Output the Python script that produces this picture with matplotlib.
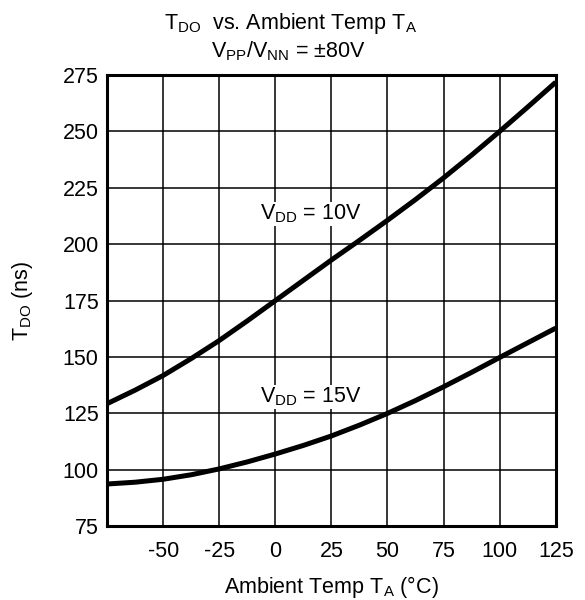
import matplotlib
matplotlib.use("Agg")
import matplotlib.pyplot as plt

plt.rcParams['font.family'] = ['Liberation Sans', 'DejaVu Sans']
plt.rcParams['mathtext.fontset'] = 'custom'
plt.rcParams['mathtext.rm'] = 'Liberation Sans'
plt.rcParams['mathtext.it'] = 'Liberation Sans:italic'
plt.rcParams['mathtext.bf'] = 'Liberation Sans:bold'

temp = [-75, -62.5, -50, -37.5, -25, -12.5, 0, 12.5, 25, 37.5, 50, 62.5, 75, 87.5, 100, 112.5, 125]
tdo_10v = [129.3, 135.3, 141.8, 149.3, 157.3, 166, 175, 184, 193, 201.7, 210.6, 219.8, 229.4, 239.5, 250, 260.8, 271.8]
tdo_15v = [93.7, 94.5, 95.8, 97.8, 100.4, 103.5, 107, 110.8, 115, 119.8, 125, 130.7, 136.8, 143.2, 149.8, 156.3, 162.8]

xticks = [-75, -50, -25, 0, 25, 50, 75, 100, 125]
xticklabels = ['', '-50', '-25', '0', '25', '50', '75', '100', '125']
yticks = [75, 100, 125, 150, 175, 200, 225, 250, 275]

fig = plt.figure(figsize=(5.85, 6.0), dpi=100)
ax = fig.add_axes([0.183, 0.123, 0.767, 0.752])

ax.plot(temp, tdo_10v, color='black', lw=3.6, solid_capstyle='butt', zorder=3)
ax.plot(temp, tdo_15v, color='black', lw=3.6, solid_capstyle='butt', zorder=3)

ax.set_xlim(-75, 125)
ax.set_ylim(75, 275)
ax.set_xticks(xticks)
ax.set_xticklabels(xticklabels)
ax.set_yticks(yticks)
ax.grid(True, color='black', lw=1.1)
ax.set_axisbelow(True)
for s in ax.spines.values():
    s.set_linewidth(2.2)
ax.tick_params(length=0, labelsize=15.5, pad=6)
ax.tick_params(axis='x', pad=11)

ax.text(16, 213.5, r'$\mathrm{V_{DD}}$ = 10V', fontsize=15.5, ha='center', va='center',
        bbox=dict(facecolor='white', edgecolor='none', pad=0.5), zorder=2)
ax.text(16, 132.4, r'$\mathrm{V_{DD}}$ = 15V', fontsize=15.5, ha='center', va='center',
        bbox=dict(facecolor='white', edgecolor='none', pad=0.5), zorder=2)

fig.text(0.497, 0.960, r'$\mathrm{T_{DO}}$  vs. Ambient Temp $\mathrm{T_A}$', fontsize=15.5, ha='center', va='center')
fig.text(0.493, 0.914, r'$\mathrm{V_{PP}/V_{NN}}$ = ±80V', fontsize=15.5, ha='center', va='center')

ax.set_xlabel(r'Ambient Temp $\mathrm{T_A}$ (°C)', fontsize=15.5, labelpad=8)
ax.set_ylabel(r'$\mathrm{T_{DO}}$ (ns)', fontsize=15.5, labelpad=20)

fig.savefig('out.png', dpi=100)
